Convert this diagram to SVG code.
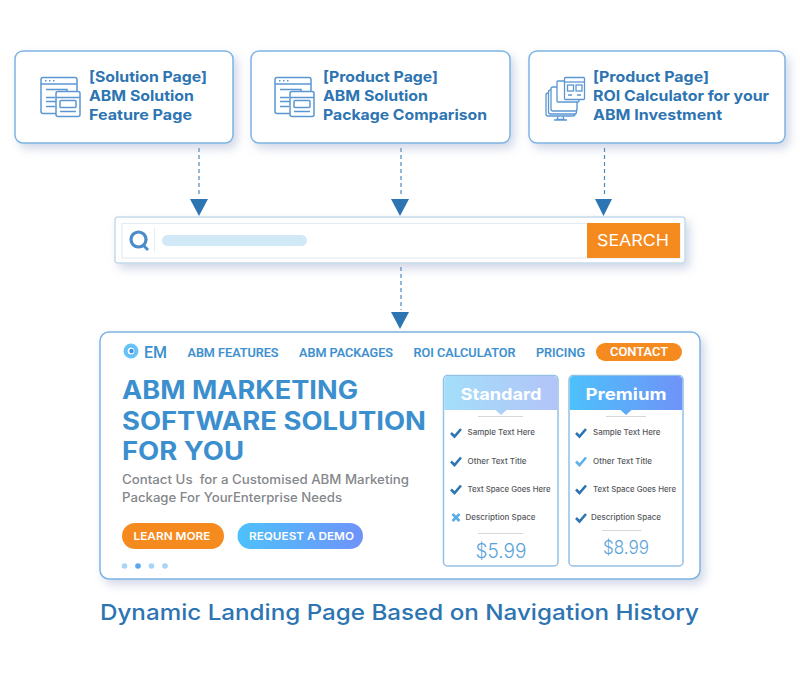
<svg xmlns="http://www.w3.org/2000/svg" width="800" height="677" viewBox="0 0 800 677">
<style>
text{font-family:"Inter","Liberation Sans",sans-serif;white-space:pre}
.b{fill:#fff;stroke:#7db4e3;stroke-width:1.5}
.t{font-size:14.500px;font-weight:700;fill:#2d74b2}
.nav{font-family:"Roboto","Liberation Sans",sans-serif;font-size:12.500px;font-weight:500;fill:#3c8fce;stroke:#3c8fce;stroke-width:.15}
.h{font-size:25px;font-weight:700;fill:#3c8fce}
.p{font-size:12.500px;font-weight:500;fill:#84878b}
.btn{font-size:10.500px;font-weight:600;fill:#fff}
.card{fill:#fff;stroke:#93c1e8;stroke-width:1.5}
.ct{font-size:16.500px;font-weight:700;fill:#fff}
.li{font-size:7.500px;font-weight:500;fill:#55585c}
.price{font-size:20px;font-weight:300;fill:#5aa3dc}
.rule{stroke:#c9ced3;stroke-width:.8}
.ck{fill:none;stroke:#2d74b2;stroke-width:2.6}
.ic{fill:none;stroke:#5b96d2;stroke-width:1.500}
.dash{stroke:#2d74b2;stroke-width:1.200;stroke-dasharray:4 3;fill:none;opacity:.85}
.dot{fill:#a6d4fb}
</style>
<defs>
<filter id="sh" x="-10%" y="-20%" width="120%" height="150%"><feDropShadow dx="4" dy="5" stdDeviation="5" flood-color="#8f9fc4" flood-opacity=".4"/></filter>
<linearGradient id="g1" x1="0" x2="1" y1="0" y2="0"><stop offset="0" stop-color="#a3def9"/><stop offset="1" stop-color="#b3c4f8"/></linearGradient>
<linearGradient id="g2" x1="0" x2="1" y1="0" y2="0"><stop offset="0" stop-color="#4dc1fb"/><stop offset="1" stop-color="#6f93f8"/></linearGradient>
<radialGradient id="lg"><stop offset="0" stop-color="#3f8fe8"/><stop offset="1" stop-color="#66c6fa"/></radialGradient>
<g id="pg">
<rect x="0" y="0" width="36" height="36" rx="2" class="ic"/><path d="M0 6.500H36M5 12H26V24H5M5 29H14M5 20H14" class="ic"/>
<path d="M4 3.200h1.500M8 3.200h1.500M12 3.200h1.500" class="ic"/>
<rect x="15" y="14" width="24" height="25" rx="2" fill="#fff" stroke="#5b96d2" stroke-width="1.500"/><path d="M15 20H39M19 34H35" class="ic"/><rect x="19" y="23" width="16" height="7" rx="1" class="ic"/>
</g>
<path id="ck" d="M0 4L3.500 7.500L10 0" class="ck"/>
</defs>
<rect width="800" height="677" fill="#fff"/>
<g id="connectors">
<path class="dash" d="M199 148V195M401 148V195M604.500 148V195M401 267V310"/>
<path fill="#2d74b2" d="M190 199H208L199 216ZM391 199H409L400 216ZM595 199H612L603.500 216ZM391 312H409L400 329Z"/>
</g>
<g id="node-solution">
<rect class="b" x="15" y="51" width="218" height="92" rx="8" filter="url(#sh)"/>
<use href="#pg" x="41" y="77.500"/>
<text class="t" x="89" y="82" textLength="118" lengthAdjust="spacingAndGlyphs">[Solution Page]</text>
<text class="t" x="89" y="101" textLength="105" lengthAdjust="spacingAndGlyphs">ABM Solution</text>
<text class="t" x="89" y="120" textLength="103" lengthAdjust="spacingAndGlyphs">Feature Page</text>
</g>
<g id="node-package">
<rect class="b" x="251" y="51" width="259" height="92" rx="8" filter="url(#sh)"/>
<use href="#pg" x="275" y="77.500"/>
<text class="t" x="323" y="82" textLength="115" lengthAdjust="spacingAndGlyphs">[Product Page]</text>
<text class="t" x="323" y="101" textLength="105" lengthAdjust="spacingAndGlyphs">ABM Solution</text>
<text class="t" x="323" y="120" textLength="164" lengthAdjust="spacingAndGlyphs">Package Comparison</text>
</g>
<g id="node-roi">
<rect class="b" x="529" y="51" width="256" height="92" rx="8" filter="url(#sh)"/>
<g stroke="#5b96d2" stroke-width="1.300" fill="#fff">
<rect x="546" y="93" width="29" height="23" rx="2"/><rect x="548.500" y="90" width="28" height="24" rx="2"/><rect x="551" y="87" width="26" height="24" rx="2"/>
<path d="M558 116.500L557 119.500H564L563 116.500M554 120H567" fill="none"/>
<rect x="557" y="81" width="22" height="21" rx="1"/><rect x="564.500" y="77.500" width="20" height="22" rx="1"/>
<path d="M564.500 82H584.500" fill="none"/>
<rect x="567.500" y="85" width="6" height="6" fill="none"/><rect x="576" y="85" width="6" height="6" fill="none"/>
<path d="M568 95H572M577 95H581" fill="none"/>
</g>
<text class="t" x="593" y="82" textLength="116" lengthAdjust="spacingAndGlyphs">[Product Page]</text>
<text class="t" x="593" y="101" textLength="176" lengthAdjust="spacingAndGlyphs">ROI Calculator for your</text>
<text class="t" x="593" y="120" textLength="129" lengthAdjust="spacingAndGlyphs">ABM Investment</text>
</g>
<g id="node-search">
<rect x="115" y="217" width="570" height="46" rx="3" fill="#fff" stroke="#c5dcec" stroke-width="1.500" filter="url(#sh)"/>
<rect x="122" y="223.500" width="558" height="34.500" fill="#fff" stroke="#e3edf3" stroke-width="1.200"/>
<path d="M154.500 228V252" stroke="#e3edf3"/>
<circle cx="138.500" cy="239.500" r="7.500" fill="none" stroke="#4a8cc9" stroke-width="3.200"/><path d="M143 245L148 250" stroke="#4a8cc9" stroke-width="2.800"/>
<rect x="162" y="235" width="145" height="11" rx="5.500" fill="#d1e8f6"/>
<rect x="587" y="223" width="93" height="35" fill="#f58a1f"/>
<text x="597" y="245.500" font-size="16" fill="#fff" font-weight="400" textLength="72" lengthAdjust="spacingAndGlyphs">SEARCH</text>
</g>
<g id="node-landing">
<rect class="b" x="100" y="332" width="600" height="247" rx="9" filter="url(#sh)"/>
<circle cx="131" cy="351" r="5.500" fill="none" stroke="url(#lg)" stroke-width="4"/><circle cx="131.500" cy="351" r="2.200" fill="#3f8fe8"/>
<text x="144" y="358" style="font-family:Roboto,sans-serif" font-size="17" font-weight="500" fill="#3c8fce" textLength="23" lengthAdjust="spacingAndGlyphs">EM</text>
<text class="nav" x="187.500" y="356.500" textLength="91" lengthAdjust="spacingAndGlyphs">ABM FEATURES</text>
<text class="nav" x="299" y="356.500" textLength="94" lengthAdjust="spacingAndGlyphs">ABM PACKAGES</text>
<text class="nav" x="413.500" y="356.500" textLength="102" lengthAdjust="spacingAndGlyphs">ROI CALCULATOR</text>
<text class="nav" x="536" y="356.500" textLength="49" lengthAdjust="spacingAndGlyphs">PRICING</text>
<rect x="596" y="343" width="86" height="18" rx="9" fill="#f58a1f"/>
<text class="nav" x="610" y="356" style="fill:#fff;stroke:#fff" textLength="58" lengthAdjust="spacingAndGlyphs">CONTACT</text>
<text class="h" x="122" y="399" textLength="236" lengthAdjust="spacingAndGlyphs">ABM MARKETING</text>
<text class="h" x="122" y="429.500" textLength="304" lengthAdjust="spacingAndGlyphs">SOFTWARE SOLUTION</text>
<text class="h" x="122" y="459.500" textLength="122" lengthAdjust="spacingAndGlyphs">FOR YOU</text>
<text class="p" x="122" y="484" textLength="287" lengthAdjust="spacingAndGlyphs">Contact Us  for a Customised ABM Marketing</text>
<text class="p" x="122" y="501.500" textLength="220" lengthAdjust="spacingAndGlyphs">Package For YourEnterprise Needs</text>
<rect x="122" y="523" width="102" height="26" rx="13" fill="#f58a1f"/>
<text class="btn" x="133.500" y="540" textLength="77" lengthAdjust="spacingAndGlyphs">LEARN MORE</text>
<rect x="237.500" y="523" width="125.500" height="26" rx="13" fill="url(#g2)"/>
<text class="btn" x="249" y="540" textLength="105" lengthAdjust="spacingAndGlyphs">REQUEST A DEMO</text>
<circle class="dot" cx="124.500" cy="566" r="2.800"/><circle cx="138" cy="566" r="2.800" fill="#5aa8ee"/><circle class="dot" cx="151.500" cy="566" r="2.800"/><circle class="dot" cx="165" cy="566" r="2.800"/>
<g id="card-standard">
<rect class="card" x="443.500" y="375.500" width="114.500" height="190.500" rx="4"/>
<path d="M444.300 410V380a4 4 0 0 1 4-4H553a4 4 0 0 1 4.300 4V410H506.500L501 415L495.500 410Z" fill="url(#g1)"/>
<text class="ct" x="460.500" y="400" textLength="81" lengthAdjust="spacingAndGlyphs">Standard</text>
<path class="rule" d="M478 416.500H523M478 533.500H523"/>
<use href="#ck" x="451" y="429"/><use href="#ck" x="451" y="457.500"/><use href="#ck" x="451" y="485.500"/>
<path d="M452.500 514L459.500 521M459.500 514L452.500 521" stroke="#5cace6" stroke-width="2.600"/>
<text class="li" x="467.500" y="435" textLength="67.500" lengthAdjust="spacingAndGlyphs">Sample Text Here</text>
<text class="li" x="467.500" y="463.500" textLength="59" lengthAdjust="spacingAndGlyphs">Other Text Title</text>
<text class="li" x="467.500" y="491.500" textLength="83" lengthAdjust="spacingAndGlyphs">Text Space Goes Here</text>
<text class="li" x="465.500" y="520" textLength="70" lengthAdjust="spacingAndGlyphs">Description Space</text>
<text class="price" x="475.500" y="558" textLength="51" lengthAdjust="spacingAndGlyphs">$5.99</text>
</g>
<g id="card-premium">
<rect class="card" x="569" y="375.500" width="114" height="190.500" rx="4"/>
<path d="M569.800 410V380a4 4 0 0 1 4-4H678a4 4 0 0 1 4.300 4V410H631.500L626 415L620.500 410Z" fill="url(#g2)"/>
<text class="ct" x="585.500" y="400" textLength="81" lengthAdjust="spacingAndGlyphs">Premium</text>
<path class="rule" d="M606 416.500H646M602 530.500H641.500"/>
<use href="#ck" x="576" y="429"/>
<path d="M576 461.500L579.500 465L586 457.500" class="ck" style="stroke:#5cb2e8"/>
<use href="#ck" x="576" y="485.500"/><use href="#ck" x="576" y="514"/>
<text class="li" x="593" y="435" textLength="67.500" lengthAdjust="spacingAndGlyphs">Sample Text Here</text>
<text class="li" x="593" y="463.500" textLength="59" lengthAdjust="spacingAndGlyphs">Other Text Title</text>
<text class="li" x="593" y="491.500" textLength="83" lengthAdjust="spacingAndGlyphs">Text Space Goes Here</text>
<text class="li" x="591" y="520" textLength="70" lengthAdjust="spacingAndGlyphs">Description Space</text>
<text class="price" x="603" y="553.500" style="font-size:18.500px" textLength="46" lengthAdjust="spacingAndGlyphs">$8.99</text>
</g>
</g>
<text id="caption" x="100" y="620" font-size="22" font-weight="500" fill="#2d74b2" textLength="599" lengthAdjust="spacingAndGlyphs">Dynamic Landing Page Based on Navigation History</text>
</svg>
